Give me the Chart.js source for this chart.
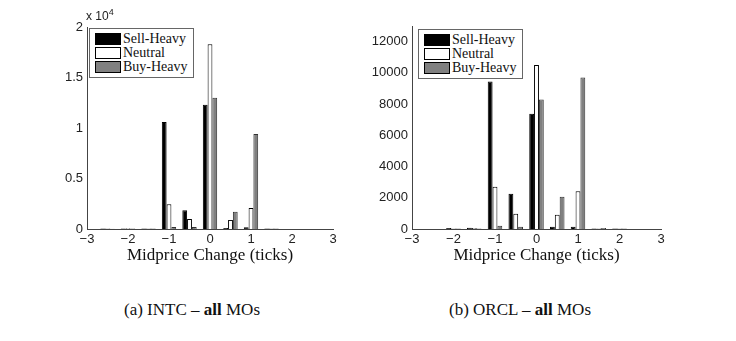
<!DOCTYPE html>
<html>
<head>
<meta charset="utf-8">
<script src="https://cdn.jsdelivr.net/npm/chart.js@4.4.0/dist/chart.umd.min.js"></script>
<style>
  html, body { margin: 0; padding: 0; background: #fff; }
  body { width: 736px; height: 341px; position: relative; overflow: hidden; font-family: "Liberation Serif", serif; }
  .cv { position: absolute; top: 0; }
  .legend { position: absolute; background: #fff; border: 1px solid #666; font-family: "Liberation Serif", serif; font-size: 14px; color: #111; padding: 3px 5px 3px 5px; white-space: nowrap; }
  .legend .row { display: flex; align-items: center; height: 14px; white-space: nowrap; }
  .legend .sw { width: 24px; height: 10px; border: 1px solid #000; margin-right: 2px; flex: none; }
  .exp { position: absolute; font-family: "Liberation Sans", sans-serif; font-size: 12px; color: #222; }
  .exp sup { font-size: 9px; }
  .cap { position: absolute; font-family: "Liberation Serif", serif; font-size: 17px; color: #111; white-space: nowrap; transform: translateX(-50%); }
</style>
</head>
<body>
<canvas id="c1" class="cv" width="340" height="275" style="left:0px;"></canvas>
<canvas id="c2" class="cv" width="340" height="275" style="left:340px;"></canvas>

<div class="exp" style="left:86px; top:7px;">x 10<sup>4</sup></div>

<div class="legend" style="left:89px; top:28px;">
  <div class="row"><div class="sw" style="background:#000"></div>Sell-Heavy</div>
  <div class="row"><div class="sw" style="background:#fff"></div>Neutral</div>
  <div class="row"><div class="sw" style="background:#808080"></div>Buy-Heavy</div>
</div>
<div class="legend" style="left:418px; top:29px;">
  <div class="row"><div class="sw" style="background:#000"></div>Sell-Heavy</div>
  <div class="row"><div class="sw" style="background:#fff"></div>Neutral</div>
  <div class="row"><div class="sw" style="background:#808080"></div>Buy-Heavy</div>
</div>

<div class="cap" style="left:192px; top:300px;">(a) INTC – <b>all</b> MOs</div>
<div class="cap" style="left:520px; top:300px;">(b) ORCL – <b>all</b> MOs</div>

<script>
// Categories: midprice change in ticks
const categories = [-3, -2.5, -2, -1.5, -1, -0.5, 0, 0.5, 1, 1.5, 2, 2.5, 3];
const seriesNames = ["Sell-Heavy", "Neutral", "Buy-Heavy"];

// INTC (panel a)
const intcSell    = [0, 60, 60, 60, 10600, 1850, 12300, 100, 170, 60, 0, 0, 0];
const intcNeutral = [0, 40, 80, 60, 2450, 990, 18300, 900, 2080, 60, 0, 0, 0];
const intcBuy     = [0, 30, 50, 50, 200, 200, 13000, 1700, 9400, 40, 0, 0, 0];

// ORCL (panel b)
const orclSell    = [0, 0, 70, 80, 9450, 2250, 7380, 150, 150, 40, 40, 0, 0];
const orclNeutral = [0, 0, 40, 70, 2700, 970, 10500, 920, 2420, 40, 40, 0, 0];
const orclBuy     = [0, 0, 30, 40, 210, 150, 8300, 2060, 9700, 60, 30, 0, 0];

// Tick values
const xTickValues = [-3, -2, -1, 0, 1, 2, 3];
const intcYTicks = [0, 5000, 10000, 15000, 20000];
const orclYTicks = [0, 2000, 4000, 6000, 8000, 10000, 12000];

const fmt = v => (v < 0 ? "\u2212" + Math.abs(v) : String(v));

function makeChart(id, sell, neutral, buy, yMax, yTicks, yFmt, yAxisWidth, padTop, padRight) {
  const ctx = document.getElementById(id).getContext("2d");
  return new Chart(ctx, {
    type: "bar",
    data: {
      labels: categories,
      datasets: [
        { label: seriesNames[0], data: sell, backgroundColor: "#000000", borderColor: "#000000", borderWidth: 1 },
        { label: seriesNames[1], data: neutral, backgroundColor: "#ffffff", borderColor: "#000000", borderWidth: 1 },
        { label: seriesNames[2], data: buy, backgroundColor: "#808080", borderColor: "#333333", borderWidth: 1 }
      ]
    },
    options: {
      responsive: false,
      animation: false,
      devicePixelRatio: 1,
      layout: { padding: { left: 0, right: padRight, top: padTop, bottom: 0 } },
      plugins: { legend: { display: false }, tooltip: { enabled: false } },
      datasets: { bar: { categoryPercentage: 0.7, barPercentage: 1.0, borderSkipped: "start" } },
      scales: {
        x: {
          type: "category",
          offset: false,
          grid: { display: false, drawTicks: false },
          border: { display: true, color: "#444", width: 1 },
          ticks: {
            autoSkip: false, maxRotation: 0, padding: 3,
            color: "#222",
            font: { family: "Liberation Sans", size: 13 },
            callback: function (val, idx) {
              const c = categories[idx];
              return xTickValues.includes(c) ? fmt(c) : null;
            }
          },
          title: {
            display: true, text: "Midprice Change (ticks)", color: "#111",
            font: { family: "Liberation Serif", size: 17 },
            padding: { top: 0, bottom: 9 }
          },
          afterFit: s => { s.height = 46; }
        },
        y: {
          type: "linear",
          min: 0, max: yMax,
          grid: { display: false, drawTicks: false },
          border: { display: true, color: "#444", width: 1 },
          afterBuildTicks: s => { s.ticks = yTicks.map(v => ({ value: v })); },
          ticks: {
            autoSkip: false, padding: 4, color: "#222",
            font: { family: "Liberation Sans", size: 13 },
            callback: v => yFmt(v)
          },
          afterFit: s => { s.width = yAxisWidth; }
        }
      }
    }
  });
}

makeChart("c1", intcSell, intcNeutral, intcBuy, 20000, intcYTicks, v => String(v / 10000), 87, 27, 7);
makeChart("c2", orclSell, orclNeutral, orclBuy, 13000, orclYTicks, v => String(v), 72, 26, 19);
</script>
</body>
</html>
